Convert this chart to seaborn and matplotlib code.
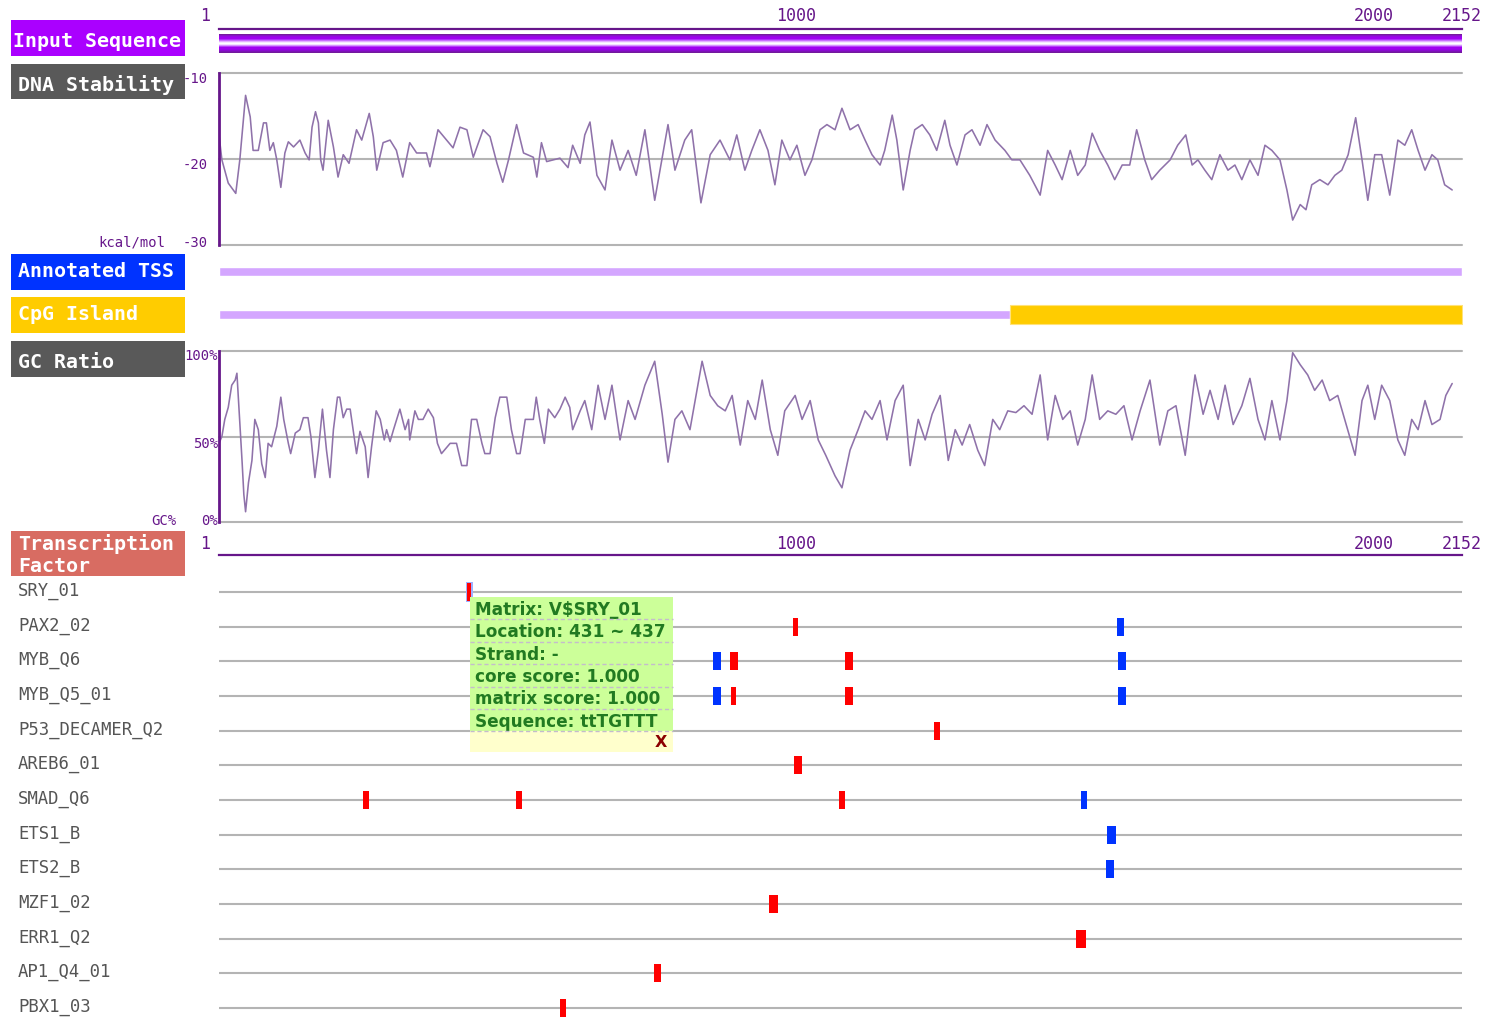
import numpy as np
import matplotlib
matplotlib.use("Agg")
import matplotlib.pyplot as plt
import matplotlib.transforms as mtransforms
from matplotlib.colors import to_rgb
from matplotlib.patches import Rectangle
import seaborn as sns

# ---------------------------------------------------------------- data
SEQ_START, SEQ_END = 1, 2152
ruler_ticks = [1, 1000, 2000, 2152]

# DNA stability (kcal/mol) along the sequence
dna_pos = [1, 6, 17, 30, 37, 47, 55, 60, 69, 78, 83, 89, 95, 101, 108, 115, 121, 130, 141, 150,
           157, 162, 168, 173, 177, 181, 190, 199, 207, 216, 226, 239, 248, 261, 268, 274, 285, 297, 308, 319,
           331, 343, 360, 366, 380, 395, 406, 418, 430, 441, 458, 470, 482, 492, 502, 516, 528, 545, 551, 559,
           568, 591, 605, 613, 626,
           634, 643, 655, 669, 681, 695, 709, 723, 738, 755, 778, 790, 807, 819, 835, 851, 868, 885, 897, 911,
           923, 937, 951, 963, 975, 989, 1001, 1015, 1027, 1041, 1053, 1067, 1079, 1093, 1107, 1119, 1131, 1145, 1153, 1166,
           1174, 1185, 1197, 1205, 1218, 1231, 1243, 1257, 1266, 1278, 1292, 1304, 1318, 1330, 1344, 1361, 1373, 1387, 1404, 1422,
           1435, 1448, 1460, 1474, 1487, 1500, 1512, 1525, 1539, 1551, 1564, 1577, 1589, 1603, 1615, 1629, 1647, 1660, 1674, 1685,
           1695, 1707, 1719, 1733, 1747, 1759, 1771, 1785, 1799, 1811, 1823, 1837, 1849, 1859, 1872, 1882, 1892, 1906, 1920, 1932,
           1944, 1955, 1968, 1979, 1989, 2001, 2013, 2027, 2041, 2053, 2065, 2076, 2088, 2100, 2110, 2122, 2135]
dna_val = [-17.2, -20.1, -22.8, -24.0, -20.1, -12.6, -15.1, -19.0, -19.0, -15.8, -15.8, -19.0, -18.1, -20.1, -23.3,
           -19.3, -18.0, -18.6, -17.8, -19.3, -20.1, -16.3, -14.5, -15.8, -20.1, -21.3, -15.5, -18.6, -22.1, -19.5,
           -20.5, -16.6, -17.8, -14.7, -17.4, -21.3, -18.1, -17.8, -19.0, -22.1, -18.1, -19.3, -19.3, -20.9, -16.6,
           -17.8, -18.7, -16.3, -16.6, -19.8, -16.6, -17.4, -20.5, -22.7, -20.1, -16.0, -19.3, -19.8, -22.1, -18.1,
           -20.3, -19.9, -21.0, -18.4, -20.5,
           -17.2, -15.7, -21.9, -23.6, -17.8, -21.3, -19.0, -21.9, -16.6, -24.8, -16.0, -21.3, -17.8, -16.6, -25.1,
           -19.5, -17.8, -20.1, -17.2, -21.3, -19.0, -16.6, -19.0, -23.0, -17.8, -20.1, -18.4, -21.9, -20.1, -16.6,
           -16.0, -16.6, -14.1, -16.6, -16.0, -17.8, -19.5, -20.7, -19.0, -14.9, -17.8, -23.6, -19.0, -16.6, -16.0,
           -17.2, -19.0, -15.5, -18.4, -20.7, -17.2, -16.6, -18.4, -16.0, -17.8, -19.0, -20.1, -20.1, -21.9, -24.2,
           -19.0, -20.7, -22.4, -19.0, -21.9, -20.7, -17.0, -19.0, -20.7, -22.4, -20.7, -20.7, -16.6, -20.1, -22.4,
           -21.3, -20.1, -18.4, -17.2, -20.7, -20.1, -21.3, -22.4, -19.5, -21.3, -20.7, -22.4, -20.1, -21.9, -18.4,
           -19.0, -20.1, -23.6, -27.1, -25.3, -25.9, -23.0, -22.4, -23.0, -21.9, -21.3, -19.5, -15.2, -20.1, -24.8,
           -19.5, -19.5, -24.2, -17.8, -18.4, -16.6, -19.0, -21.3, -19.5, -20.1, -23.0, -23.6]

# GC ratio (%) along the sequence
gc_pos = [1, 6, 11, 17, 23, 29, 32, 36, 41, 44, 47, 52, 58, 63, 69, 75, 81, 86, 92, 101,
          108, 113, 121, 125, 133, 141, 147, 155, 160, 167, 173, 180, 187, 193, 199, 206, 210, 216, 222, 228,
          233, 239, 245, 254, 259, 265, 273, 280, 287, 291, 297, 303, 314, 323, 329, 331, 340, 346, 354, 363,
          372, 379, 386, 401, 412, 421, 430, 438, 447, 456, 461, 470, 479, 487, 499, 507, 516, 522, 531, 545,
          550, 556, 564, 571, 582, 591, 600, 608, 613, 626,
          634, 646, 657, 669, 681, 695, 709, 721, 738, 755, 768, 778, 790, 802, 816, 837, 851, 864, 877, 889,
          903, 916, 929, 941, 955, 968, 980, 998, 1010, 1024, 1038, 1051, 1067, 1079, 1093, 1107, 1119, 1131, 1145, 1157,
          1171, 1185, 1197, 1211, 1223, 1235, 1249, 1263, 1275, 1287, 1300, 1314, 1326, 1340, 1352, 1366, 1380, 1394, 1408, 1422,
          1435, 1448, 1461, 1474, 1487, 1500, 1512, 1525, 1539, 1553, 1567, 1581, 1595, 1612, 1629, 1643, 1657, 1673, 1690, 1704,
          1716, 1730, 1742, 1756, 1771, 1785, 1799, 1811, 1823, 1837, 1849, 1859, 1872, 1885, 1897, 1910, 1923, 1937, 1949, 1967,
          1979, 1989, 2001, 2013, 2027, 2041, 2053, 2065, 2076, 2088, 2100, 2114, 2124, 2135]
gc_val = [46, 50, 60, 67, 80, 83, 87, 64, 35, 16, 6, 23, 36, 60, 54, 34, 26, 46, 44, 56,
          73, 60, 46, 40, 52, 54, 61, 61, 50, 26, 42, 66, 42, 26, 54, 73, 73, 61, 66, 66,
          54, 40, 53, 44, 26, 44, 65, 60, 48, 54, 47, 54, 66, 54, 60, 48, 65, 60, 60, 66,
          61, 46, 40, 46, 46, 33, 33, 60, 60, 46, 40, 40, 61, 73, 73, 54, 40, 40, 60, 60,
          73, 60, 46, 66, 61, 66, 73, 67, 54, 65,
          71, 54, 80, 60, 80, 48, 71, 60, 80, 94, 63, 35, 60, 65, 54, 94, 74, 68, 65, 74,
          45, 71, 60, 83, 54, 39, 65, 74, 60, 71, 48, 39, 27, 20, 42, 54, 65, 60, 71, 48,
          71, 80, 33, 60, 48, 63, 74, 36, 54, 45, 57, 42, 33, 60, 54, 65, 64, 68, 63, 86,
          48, 74, 60, 65, 45, 60, 86, 60, 65, 63, 68, 48, 65, 83, 45, 65, 68, 39, 86, 63,
          77, 60, 80, 57, 68, 84, 60, 48, 71, 48, 71, 99, 92, 86, 77, 83, 71, 74, 60, 39,
          71, 80, 60, 80, 71, 48, 39, 60, 54, 71, 57, 60, 74, 81]

# CpG island
cpg_start, cpg_end = 1370, 2152

# transcription factor binding sites
tf_names = ["SRY_01", "PAX2_02", "MYB_Q6", "MYB_Q5_01", "P53_DECAMER_Q2", "AREB6_01", "SMAD_Q6",
            "ETS1_B", "ETS2_B", "MZF1_02", "ERR1_Q2", "AP1_Q4_01", "PBX1_03"]
site_factor = ["SRY_01", "PAX2_02", "PAX2_02", "MYB_Q6", "MYB_Q6", "MYB_Q6", "MYB_Q6",
               "MYB_Q5_01", "MYB_Q5_01", "MYB_Q5_01", "MYB_Q5_01", "P53_DECAMER_Q2", "AREB6_01",
               "SMAD_Q6", "SMAD_Q6", "SMAD_Q6", "SMAD_Q6", "ETS1_B", "ETS2_B", "MZF1_02",
               "ERR1_Q2", "AP1_Q4_01", "PBX1_03"]
site_start = [431, 995, 1556, 856, 886, 1085, 1558, 856, 887, 1085, 1558, 1238, 997,
              251, 515, 1074, 1493, 1539, 1537, 953, 1484, 755, 591]
site_end = [437, 1003, 1567, 869, 898, 1097, 1570, 869, 895, 1097, 1570, 1249, 1010,
            260, 524, 1084, 1503, 1553, 1550, 967, 1500, 766, 601]
site_strand = ["-", "-", "+", "+", "-", "-", "+", "+", "-", "-", "+", "-", "-",
               "-", "-", "-", "+", "+", "+", "-", "-", "-", "-"]
sel_core_score, sel_matrix_score, sel_sequence = 1.000, 1.000, "ttTGTTT"

# ---------------------------------------------------------------- style
sns.set_style("white")
plt.rcParams["font.family"] = ["DejaVu Sans Mono", "DejaVu Sans"]

W, H = 1490, 1017
fig = plt.figure(figsize=(W / 100, H / 100), dpi=100)

X0, X1 = 219, 1462
PURPLE = "#66168a"
GRID = "#b4b4b4"
LINE = "#8f72aa"
PLUS, MINUS = "#0033ff", "#ff0000"


def px_axes(x0, y0, x1, y1):
    ax = fig.add_axes([x0 / W, 1 - y1 / H, (x1 - x0) / W, (y1 - y0) / H])
    ax.patch.set_alpha(0)
    return ax


def shifted(trans, dx, dy):
    return mtransforms.offset_copy(trans, fig=fig, x=dx, y=dy, units="dots")


def ruler(y_top, y_base, label_y):
    ax = px_axes(X0, y_top, X1, y_base)
    ax.set_xlim(SEQ_START, SEQ_END)
    ax.set_ylim(0, 1)
    for s in ["top", "left", "right"]:
        ax.spines[s].set_visible(False)
    ax.spines["bottom"].set_color(PURPLE)
    ax.spines["bottom"].set_linewidth(1.6)
    ax.set_xticks(ruler_ticks)
    ax.set_yticks([])
    ax.tick_params(axis="x", direction="in", length=7.8, width=1.4, color=PURPLE,
                   labelbottom=False)
    tr = ax.get_xaxis_transform()
    for t in ruler_ticks:
        if t == SEQ_START:
            ax.text(t, label_y, str(t), transform=shifted(tr, -9, 0), ha="right",
                    va="center", fontsize=12, color=PURPLE, zorder=0)
        else:
            ax.text(t, label_y, str(t), transform=tr, ha="center", va="center",
                    fontsize=12, color=PURPLE, zorder=0)
    return ax


def style_track(ax, ylo, yhi):
    for s in ["top", "right", "bottom"]:
        ax.spines[s].set_visible(False)
    ax.spines["left"].set_color(PURPLE)
    ax.spines["left"].set_linewidth(2)
    ax.set_xticks([])
    ax.set_yticks([ylo, yhi])
    ax.tick_params(axis="y", direction="in", length=5, width=2, color=PURPLE,
                   labelleft=False)
    ax.set_xlabel("")
    ax.set_ylabel("")


# ---------------------------------------------------------------- top ruler
ruler(5, 29, 0.54)

# input sequence bar
ax_in = px_axes(X0, 34, X1, 53)
stripe = ["#761a9e", "#8c12d4", "#a000f0", "#a000f0", "#b236ff", "#d58cff", "#f4e2ff",
          "#ffffff", "#efd6ff", "#c464ff", "#a000f0", "#a000f0", "#9406e2", "#8010c0", "#731a9c"]
rgb = np.array([to_rgb(c) for c in stripe])[:, None, :]
ax_in.imshow(rgb, aspect="auto", extent=[SEQ_START, SEQ_END, 0, 1], interpolation="bilinear")
ax_in.set_xlim(SEQ_START, SEQ_END)
ax_in.axis("off")

# DNA stability track
ax_dna = px_axes(X0, 73, X1, 245)
for v in (-10, -20, -30):
    ax_dna.axhline(v, color=GRID, lw=1.5, zorder=0, clip_on=False)
sns.lineplot(x=dna_pos, y=dna_val, ax=ax_dna, color=LINE, linewidth=1.15,
             estimator=None, sort=False)
ax_dna.set_xlim(SEQ_START, SEQ_END)
ax_dna.set_ylim(-30, -10)
style_track(ax_dna, -30, -10)
ytr = ax_dna.get_yaxis_transform()
lab = dict(fontsize=10, color=PURPLE, ha="right", va="center")
ax_dna.text(0, -10, "-10", transform=shifted(ytr, -11, -6), **lab)
ax_dna.text(0, -20, "-20", transform=shifted(ytr, -11, -6), **lab)
ax_dna.text(0, -30, "-30", transform=shifted(ytr, -11, 2), **lab)
ax_dna.text(0, -30, "kcal/mol", transform=shifted(ytr, -54, 2), **lab)

# annotated TSS track
ax_tss = px_axes(X0, 260, X1, 283)
ax_tss.broken_barh([(SEQ_START, SEQ_END - SEQ_START)], (0.3, 0.4), facecolors="#d4a6ff")
ax_tss.set_xlim(SEQ_START, SEQ_END)
ax_tss.set_ylim(0, 1)
ax_tss.axis("off")

# CpG island track
ax_cpg = px_axes(X0, 302, X1, 327)
ax_cpg.broken_barh([(SEQ_START, cpg_start - SEQ_START)], (0.32, 0.36), facecolors="#d4a6ff")
ax_cpg.broken_barh([(cpg_start, cpg_end - cpg_start)], (0.12, 0.76), facecolors="#ffcc00",
                   edgecolors="#ffe27a", linewidth=0.8)
ax_cpg.set_xlim(SEQ_START, SEQ_END)
ax_cpg.set_ylim(0, 1)
ax_cpg.axis("off")

# GC ratio track
ax_gc = px_axes(X0, 351, X1, 522)
for v in (0, 50, 100):
    ax_gc.axhline(v, color=GRID, lw=1.5, zorder=0, clip_on=False)
sns.lineplot(x=gc_pos, y=gc_val, ax=ax_gc, color=LINE, linewidth=1.15,
             estimator=None, sort=False)
ax_gc.set_xlim(SEQ_START, SEQ_END)
ax_gc.set_ylim(0, 100)
style_track(ax_gc, 0, 100)
ytr = ax_gc.get_yaxis_transform()
ax_gc.text(0, 100, "100%", transform=shifted(ytr, -1, -5), **lab)
ax_gc.text(0, 50, "50%", transform=shifted(ytr, -1, -7), **lab)
ax_gc.text(0, 0, "0%", transform=shifted(ytr, -1, 1), **lab)
ax_gc.text(0, 0, "GC%", transform=shifted(ytr, -43, 1), **lab)

# second ruler
ruler(533, 555, 0.5)

# transcription factor tracks
ROW = 34.67
ax_tf = px_axes(X0, 557, X1, H)
ax_tf.set_xlim(SEQ_START, SEQ_END)
ax_tf.set_ylim((H - 592) / ROW, -(592 - 557) / ROW)
for i in range(len(tf_names)):
    ax_tf.axhline(i, color=GRID, lw=1.5, zorder=1)
rows = np.array([tf_names.index(f) for f in site_factor])
starts = np.array(site_start)
ends = np.array(site_end)
colors = [PLUS if s == "+" else MINUS for s in site_strand]
# highlight of the selected site
ax_tf.bar(x=(starts[0] + ends[0]) / 2, height=0.6, width=ends[0] - starts[0] + 6,
          bottom=rows[0] - 0.3, color="#9fb0ff", zorder=2, linewidth=0)
ax_tf.bar(x=(starts + ends) / 2, height=0.52, width=ends - starts + 1, bottom=rows - 0.26,
          color=colors, zorder=3, linewidth=0)
for s in ax_tf.spines.values():
    s.set_visible(False)
ax_tf.set_xticks([])
ax_tf.set_yticks([])
ytr = ax_tf.get_yaxis_transform()
for i, name in enumerate(tf_names):
    ax_tf.text(0, i, name, transform=shifted(ytr, -(X0 - 18), 1), ha="left",
               va="center", fontsize=12.4, color="#555555")

# ---------------------------------------------------------------- overlay: track headers, popup
ov = fig.add_axes([0, 0, 1, 1])
ov.set_xlim(0, W)
ov.set_ylim(H, 0)
ov.axis("off")

# (text, box top, box bottom, colour, text x, text baselines)
headers = [("Input Sequence", 20, 56, "#aa00ff", 13, [47]),
           ("DNA Stability", 64, 99, "#595959", 18, [91]),
           ("Annotated TSS", 254, 290, "#0033ff", 18, [277]),
           ("CpG Island", 297, 333, "#ffcc00", 18, [320]),
           ("GC Ratio", 341, 377, "#595959", 18, [368]),
           ("Transcription\nFactor", 531, 576, "#d86c62", 18, [550, 572])]
for text, y0, y1, color, tx, bases in headers:
    ov.add_patch(Rectangle((11, y0), 174, y1 - y0, facecolor=color, edgecolor="none"))
    for part, yb in zip(text.split("\n"), bases):
        ov.text(tx, yb, part, ha="left", va="baseline", fontsize=14.4,
                fontweight="bold", color="white")

# popup for the selected binding site
tip_x0, tip_x1 = 470, 673
tip_lines = [f"Matrix: V${site_factor[0]}",
             f"Location: {site_start[0]} ~ {site_end[0]}",
             f"Strand: {site_strand[0]}",
             f"core score: {sel_core_score:.3f}",
             f"matrix score: {sel_matrix_score:.3f}",
             f"Sequence: {sel_sequence}"]
row_h = 22.4
tip_y0 = 597
ov.add_patch(Rectangle((tip_x0, tip_y0), tip_x1 - tip_x0, row_h * 6,
                       facecolor="#ccff99", edgecolor="none", zorder=5))
ov.add_patch(Rectangle((tip_x0, tip_y0 + row_h * 6), tip_x1 - tip_x0, 21,
                       facecolor="#ffffcc", edgecolor="none", zorder=5))
for k, line in enumerate(tip_lines):
    ov.text(tip_x0 + 5, tip_y0 + row_h * (k + 0.5) + 1.5, line, ha="left", va="center",
            fontsize=12.2, fontweight="bold", color="#217a21", family="DejaVu Sans", zorder=6)
    yy = tip_y0 + row_h * (k + 1)
    ov.plot([tip_x0, tip_x1], [yy, yy], color="#c4bccc", lw=1, ls=(0, (3, 2)), zorder=6)
ov.text(661, tip_y0 + row_h * 6 + 11, "X", ha="center", va="center", fontsize=11.5,
        fontweight="bold", color="#8b0000", family="DejaVu Sans", zorder=6)

fig.savefig("out.png", dpi=100)
